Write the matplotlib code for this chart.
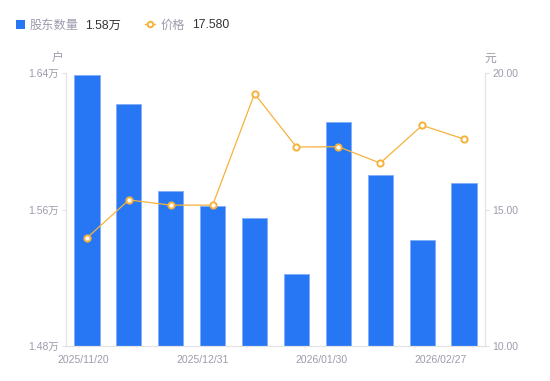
import numpy as np
import matplotlib
matplotlib.use("Agg")
import matplotlib.pyplot as plt
from matplotlib.lines import Line2D
from matplotlib.patches import Rectangle

plt.rcParams['font.family'] = ['Liberation Sans', 'Noto Sans CJK SC', 'DejaVu Sans']

# data
dates = ['2025/11/20', '2025/12/05', '2025/12/15', '2025/12/31', '2026/01/09',
         '2026/01/20', '2026/01/30', '2026/02/10', '2026/02/20', '2026/02/27']
holders = [1.639, 1.622, 1.571, 1.562, 1.555, 1.522, 1.611, 1.580, 1.542, 1.5755]  # 万户
price = [13.96, 15.35, 15.16, 15.16, 19.24, 17.29, 17.30, 16.70, 18.08, 17.58]
xlabels = ['2025/11/20', '2025/12/31', '2026/01/30', '2026/02/27']
left_ticks = [1.48, 1.56, 1.64]
right_ticks = [10.0, 15.0, 20.0]

blue = '#2777F5'
orange = '#F6B23C'
gray = '#9b9cab'
spine = '#e3e3e6'

fig = plt.figure(figsize=(5.5, 3.81), dpi=100)
ax = fig.add_axes([66/550, 35/381, 419/550, 273/381])
ax2 = ax.twinx()

x = np.arange(len(dates))
ax.bar(x, holders, width=0.6, color=blue, edgecolor='#7fadf7', linewidth=0.6, zorder=2)
ax.set_ylim(1.48, 1.64)
ax.set_xlim(-0.5, len(dates) - 0.5)
ax.set_yticks(left_ticks)
ax.set_yticklabels(['%.2f万' % v for v in left_ticks])

ax2.plot(x, price, color=orange, lw=0.9, marker='o', ms=4.5, mfc='white',
         mec=orange, mew=1.4, zorder=3)
ax2.set_ylim(10, 20)
ax2.set_yticks(right_ticks)
ax2.set_yticklabels(['%.2f' % v for v in right_ticks])

# x labels spread evenly under the axis
xpos = np.linspace(-0.1, 8.45, len(xlabels))
ax.set_xticks(xpos)
ax.set_xticklabels(xlabels)

for a in (ax, ax2):
    for s in a.spines.values():
        s.set_color(spine)
        s.set_linewidth(0.8)
    a.spines['top'].set_visible(False)
    a.tick_params(colors=gray, labelsize=7.5, length=3, width=0.8, color=spine, pad=2)
ax.tick_params(axis='x', length=0, pad=6.5)
ax2.tick_params(axis='y', labelcolor=gray)
ax.tick_params(axis='y', labelcolor=gray)
ax2.set_zorder(ax.get_zorder() + 1)
ax2.patch.set_visible(False)

fig.text(58/550, 1 - 59/381, '户', color=gray, fontsize=8.5, ha='center', va='center')
fig.text(490/550, 1 - 59/381, '元', color=gray, fontsize=8.5, ha='center', va='center')

# legend
ly = 1 - 25.5/381
fig.patches.append(Rectangle((16/550, 1 - 28.5/381), 9/550, 9/381, transform=fig.transFigure,
                             facecolor=blue, edgecolor='none'))
fig.text(30/550, ly, '股东数量', color=gray, fontsize=8.8, va='center')
fig.text(85/550, ly, '%.2f万' % holders[-1], color='#333333', fontsize=8.8, va='center')
my = 1 - 24/381
fig.lines.append(Line2D([145/550, 155/550], [my, my], transform=fig.transFigure, color=orange, lw=1))
fig.lines.append(Line2D([150/550], [my], transform=fig.transFigure, color=orange, lw=0,
                        marker='o', ms=4, mfc='white', mec=orange, mew=1.4))
fig.text(161/550, ly, '价格', color=gray, fontsize=8.8, va='center')
fig.text(192/550, ly, '%.3f' % price[-1], color='#333333', fontsize=8.8, va='center')

fig.savefig('out.png', dpi=100)
